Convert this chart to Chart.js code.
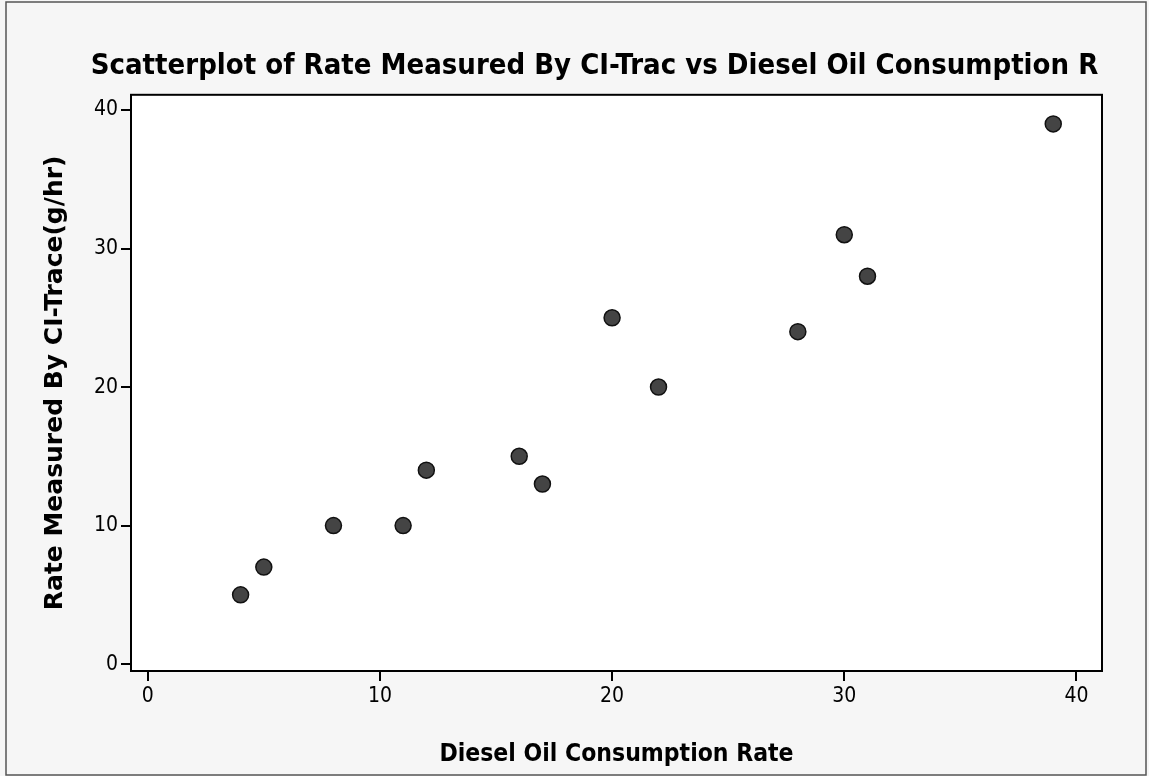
<!DOCTYPE html>
<html>
<head>
    <title>Scatterplot</title>
    <script src="https://cdn.jsdelivr.net/npm/chart.js"></script>
    <style>
        body { margin: 0; background: #ffffff; }
        canvas { display: block; }
    </style>
</head>
<body>
    <canvas id="grafica" width="1149" height="776"></canvas>
    <script>
        // datos
        const consumoDiesel = [4, 5, 8, 11, 12, 16, 17, 20, 22, 28, 30, 31, 39];
        const tasaCITrace = [5, 7, 10, 10, 14, 15, 13, 25, 20, 24, 31, 28, 39];
        const ticksX = [0, 10, 20, 30, 40];
        const ticksY = [0, 10, 20, 30, 40];

        const puntos = consumoDiesel.map((x, i) => ({ x: x, y: tasaCITrace[i] }));

        const fuente = "'DejaVu Sans Condensed', 'DejaVu Sans', sans-serif";

        // fondo, marco exterior y caja del area de trazado
        const marco = {
            id: 'marco',
            beforeDraw(chart) {
                const ctx = chart.ctx;
                const a = chart.chartArea;
                ctx.save();
                ctx.fillStyle = '#f6f6f6';
                ctx.fillRect(0, 0, chart.width, chart.height);
                ctx.fillStyle = '#ffffff';
                ctx.fillRect(a.left, a.top, a.right - a.left, a.bottom - a.top);
                ctx.strokeStyle = '#555555';
                ctx.lineWidth = 1.5;
                ctx.strokeRect(6, 2, chart.width - 9, chart.height - 3);
                ctx.restore();
            },
            afterDatasetsDraw(chart) {
                const ctx = chart.ctx;
                const a = chart.chartArea;
                ctx.save();
                ctx.strokeStyle = '#000000';
                ctx.lineWidth = 2;
                ctx.strokeRect(a.left, a.top, a.right - a.left, a.bottom - a.top);
                ctx.restore();
            }
        };

        new Chart(document.getElementById('grafica'), {
            type: 'scatter',
            data: {
                datasets: [{
                    label: 'Rate Measured By CI-Trace(g/hr)',
                    data: puntos,
                    pointRadius: 8,
                    pointHoverRadius: 8,
                    backgroundColor: '#444444',
                    borderColor: '#111111',
                    borderWidth: 1.5
                }]
            },
            options: {
                responsive: false,
                animation: false,
                layout: {
                    padding: { left: 40, right: 0, top: 0, bottom: 0 }
                },
                plugins: {
                    legend: { display: false },
                    tooltip: { enabled: false },
                    title: {
                        display: true,
                        text: 'Scatterplot of Rate Measured By CI-Trac vs Diesel Oil Consumption R',
                        color: '#000000',
                        font: { family: fuente, size: 29, weight: 'bold', lineHeight: 1.2 },
                        padding: { top: 49, bottom: 11 }
                    }
                },
                scales: {
                    x: {
                        type: 'linear',
                        min: -0.72,
                        max: 41.1,
                        afterBuildTicks: (scale) => { scale.ticks = ticksX.map(v => ({ value: v })); },
                        afterFit: (scale) => { scale.height = 105; },
                        grid: { display: true, drawOnChartArea: false, drawTicks: true, tickLength: 10, color: '#000000', lineWidth: 2 },
                        border: { display: true, color: '#000000', width: 2 },
                        ticks: { color: '#000000', padding: 3, maxRotation: 0, font: { family: fuente, size: 21 } },
                        title: {
                            display: true,
                            text: 'Diesel Oil Consumption Rate',
                            color: '#000000',
                            font: { family: fuente, size: 24.5, weight: 'bold' },
                            padding: { top: 4, bottom: 7 }
                        }
                    },
                    y: {
                        type: 'linear',
                        min: -0.5,
                        max: 41.1,
                        afterBuildTicks: (scale) => { scale.ticks = ticksY.map(v => ({ value: v })); },
                        afterFit: (scale) => { scale.width = 91; },
                        grid: { display: true, drawOnChartArea: false, drawTicks: true, tickLength: 10, color: '#000000', lineWidth: 2 },
                        border: { display: true, color: '#000000', width: 2 },
                        ticks: { color: '#000000', padding: 3, font: { family: fuente, size: 21 } },
                        title: {
                            display: true,
                            text: 'Rate Measured By CI-Trace(g/hr)',
                            color: '#000000',
                            font: { family: "'DejaVu Sans', sans-serif", size: 25, weight: 'bold' },
                            padding: { top: 0, bottom: 4 }
                        }
                    },
                    // eje vacio a la derecha, solo reserva el margen
                    y2: {
                        type: 'linear',
                        position: 'right',
                        min: -0.5,
                        max: 41.1,
                        afterFit: (scale) => { scale.width = 47; },
                        grid: { display: false, drawTicks: false },
                        border: { display: false },
                        ticks: { display: false }
                    }
                }
            },
            plugins: [marco]
        });
    </script>
</body>
</html>
